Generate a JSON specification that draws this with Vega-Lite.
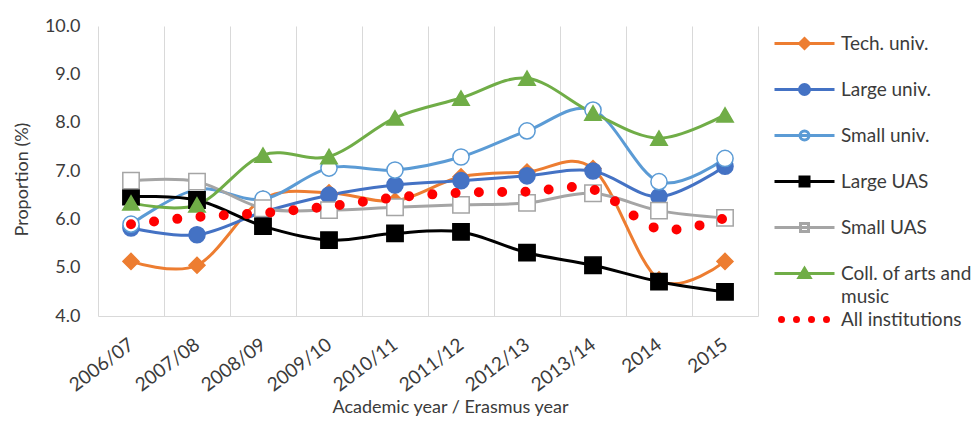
{
  "$schema": "https://vega.github.io/schema/vega-lite/v6.json",
  "width": 660,
  "height": 290,
  "autosize": {"type": "none"},
  "padding": {"left": 98, "top": 26, "right": 214, "bottom": 111},
  "background": "white",
  "config": {
    "view": {"stroke": null},
    "font": "Lato",
    "axis": {"labelColor": "#3b3b3b", "titleColor": "#3b3b3b", "labelFontSize": 18, "titleFontSize": 18, "titleFontWeight": "normal", "labelFont": "Lato", "titleFont": "Lato"}
  },
  "data": {
    "values": [
      {"series": "Tech. univ.", "year": "2006/07", "value": 5.13},
      {"series": "Tech. univ.", "year": "2007/08", "value": 5.05},
      {"series": "Tech. univ.", "year": "2008/09", "value": 6.42},
      {"series": "Tech. univ.", "year": "2009/10", "value": 6.55},
      {"series": "Tech. univ.", "year": "2010/11", "value": 6.38},
      {"series": "Tech. univ.", "year": "2011/12", "value": 6.88},
      {"series": "Tech. univ.", "year": "2012/13", "value": 6.98},
      {"series": "Tech. univ.", "year": "2013/14", "value": 7.05},
      {"series": "Tech. univ.", "year": "2014", "value": 4.75},
      {"series": "Tech. univ.", "year": "2015", "value": 5.13},
      {"series": "Large univ.", "year": "2006/07", "value": 5.82},
      {"series": "Large univ.", "year": "2007/08", "value": 5.68},
      {"series": "Large univ.", "year": "2008/09", "value": 6.15},
      {"series": "Large univ.", "year": "2009/10", "value": 6.5},
      {"series": "Large univ.", "year": "2010/11", "value": 6.71},
      {"series": "Large univ.", "year": "2011/12", "value": 6.8},
      {"series": "Large univ.", "year": "2012/13", "value": 6.9},
      {"series": "Large univ.", "year": "2013/14", "value": 7.0},
      {"series": "Large univ.", "year": "2014", "value": 6.47},
      {"series": "Large univ.", "year": "2015", "value": 7.1},
      {"series": "Small univ.", "year": "2006/07", "value": 5.9},
      {"series": "Small univ.", "year": "2007/08", "value": 6.62},
      {"series": "Small univ.", "year": "2008/09", "value": 6.42},
      {"series": "Small univ.", "year": "2009/10", "value": 7.06},
      {"series": "Small univ.", "year": "2010/11", "value": 7.02},
      {"series": "Small univ.", "year": "2011/12", "value": 7.29},
      {"series": "Small univ.", "year": "2012/13", "value": 7.83},
      {"series": "Small univ.", "year": "2013/14", "value": 8.26},
      {"series": "Small univ.", "year": "2014", "value": 6.78},
      {"series": "Small univ.", "year": "2015", "value": 7.26},
      {"series": "Large UAS", "year": "2006/07", "value": 6.47},
      {"series": "Large UAS", "year": "2007/08", "value": 6.4},
      {"series": "Large UAS", "year": "2008/09", "value": 5.86},
      {"series": "Large UAS", "year": "2009/10", "value": 5.57},
      {"series": "Large UAS", "year": "2010/11", "value": 5.71},
      {"series": "Large UAS", "year": "2011/12", "value": 5.74},
      {"series": "Large UAS", "year": "2012/13", "value": 5.31},
      {"series": "Large UAS", "year": "2013/14", "value": 5.05},
      {"series": "Large UAS", "year": "2014", "value": 4.71},
      {"series": "Large UAS", "year": "2015", "value": 4.5},
      {"series": "Small UAS", "year": "2006/07", "value": 6.8},
      {"series": "Small UAS", "year": "2007/08", "value": 6.78},
      {"series": "Small UAS", "year": "2008/09", "value": 6.23},
      {"series": "Small UAS", "year": "2009/10", "value": 6.19},
      {"series": "Small UAS", "year": "2010/11", "value": 6.25},
      {"series": "Small UAS", "year": "2011/12", "value": 6.3},
      {"series": "Small UAS", "year": "2012/13", "value": 6.34},
      {"series": "Small UAS", "year": "2013/14", "value": 6.54},
      {"series": "Small UAS", "year": "2014", "value": 6.18},
      {"series": "Small UAS", "year": "2015", "value": 6.03},
      {"series": "Coll. of arts and music", "year": "2006/07", "value": 6.34},
      {"series": "Coll. of arts and music", "year": "2007/08", "value": 6.3},
      {"series": "Coll. of arts and music", "year": "2008/09", "value": 7.33},
      {"series": "Coll. of arts and music", "year": "2009/10", "value": 7.3},
      {"series": "Coll. of arts and music", "year": "2010/11", "value": 8.1},
      {"series": "Coll. of arts and music", "year": "2011/12", "value": 8.51},
      {"series": "Coll. of arts and music", "year": "2012/13", "value": 8.92},
      {"series": "Coll. of arts and music", "year": "2013/14", "value": 8.2},
      {"series": "Coll. of arts and music", "year": "2014", "value": 7.68},
      {"series": "Coll. of arts and music", "year": "2015", "value": 8.16},
      {"series": "All institutions", "year": "2006/07", "value": 5.9},
      {"series": "All institutions", "year": "2007/08", "value": 6.05},
      {"series": "All institutions", "year": "2008/09", "value": 6.13},
      {"series": "All institutions", "year": "2009/10", "value": 6.27},
      {"series": "All institutions", "year": "2010/11", "value": 6.45},
      {"series": "All institutions", "year": "2011/12", "value": 6.55},
      {"series": "All institutions", "year": "2012/13", "value": 6.57},
      {"series": "All institutions", "year": "2013/14", "value": 6.62},
      {"series": "All institutions", "year": "2014", "value": 5.8},
      {"series": "All institutions", "year": "2015", "value": 6.03}
    ]
  },
  "encoding": {
    "x": {
      "field": "year", "type": "ordinal",
      "sort": ["2006/07", "2007/08", "2008/09", "2009/10", "2010/11", "2011/12", "2012/13", "2013/14", "2014", "2015"],
      "scale": {"paddingInner": 0, "paddingOuter": 0},
      "axis": {
        "title": "Academic year / Erasmus year",
        "tickBand": "extent", "grid": true, "gridColor": "#d9d9d9", "gridWidth": 1,
        "domain": true, "domainColor": "#d9d9d9", "domainWidth": 1,
        "ticks": false, "tickSize": 0,
        "labelFontSize": 19,
        "labelAngle": -37, "labelAlign": "right", "labelBaseline": "middle", "labelPadding": 26,
        "titleX": 352, "titleY": 91, "titleAlign": "center", "titleBaseline": "middle"
      }
    },
    "y": {
      "field": "value", "type": "quantitative",
      "scale": {"domain": [4, 10], "nice": false, "zero": false},
      "axis": {
        "title": "Proportion (%)", "values": [4, 5, 6, 7, 8, 9, 10], "format": ".1f",
        "grid": false, "domain": false, "ticks": false, "tickSize": 0,
        "labelPadding": 18,
        "titleX": -76, "titleY": 153, "titleAlign": "center", "titleBaseline": "middle"
      }
    }
  },
  "layer": [
    {
      "transform": [{"filter": "datum.series != 'All institutions'"}],
      "mark": {"type": "line", "interpolate": "cardinal", "strokeWidth": 3},
      "encoding": {
        "color": {
          "field": "series", "type": "nominal",
          "scale": {
            "domain": ["Tech. univ.", "Large univ.", "Small univ.", "Large UAS", "Small UAS", "Coll. of arts and music", "All institutions"],
            "range": ["#ED7D31", "#4472C4", "#5B9BD5", "#000000", "#A5A5A5", "#70AD47", "#FF0000"]
          },
          "legend": {
            "title": null, "orient": "none", "legendX": 695, "legendY": 6,
            "labelFontSize": 19, "labelColor": "#3b3b3b", "labelFont": "Lato",
            "gridAlign": "all",
            "rowPadding": 1, "symbolSize": 400, "labelOffset": 25, "labelLimit": 300,
            "labelExpr": "datum.label == 'Coll. of arts and music' ? ['Coll. of arts and', 'music'] : datum.label",
            "encode": {
              "symbols": {
                "update": {
                  "shape": {"signal": "['M-3,0H3M-0.5,0L0,-0.5L0.5,0L0,0.5Z', 'M-3,0H3M-0.5,0A0.5,0.5,0,1,0,0.5,0A0.5,0.5,0,1,0,-0.5,0Z', 'M-3,0H3M-0.45,0A0.45,0.45,0,1,0,0.45,0A0.45,0.45,0,1,0,-0.45,0Z', 'M-3,0H3M-0.45,-0.45H0.45V0.45H-0.45Z', 'M-3,0H3M-0.4,-0.4H0.4V0.4H-0.4Z', 'M-3,0H3M-0.55,0.4L0,-0.5L0.55,0.4Z', 'M-2.5,0A0.2,0.2,0,1,0,-2.1,0A0.2,0.2,0,1,0,-2.5,0ZM-1,0A0.2,0.2,0,1,0,-0.6,0A0.2,0.2,0,1,0,-1,0ZM0.5,0A0.2,0.2,0,1,0,0.9,0A0.2,0.2,0,1,0,0.5,0ZM2,0A0.2,0.2,0,1,0,2.4,0A0.2,0.2,0,1,0,2,0Z'][indexof(['Tech. univ.', 'Large univ.', 'Small univ.', 'Large UAS', 'Small UAS', 'Coll. of arts and music', 'All institutions'], datum.value)]"},
                  "fill": {"signal": "indexof(['Small univ.', 'Small UAS'], datum.value) >= 0 ? '#ffffff' : scale('color', datum.value)"},
                  "stroke": {"signal": "scale('color', datum.value)"},
                  "strokeWidth": {"value": 3},
                  "strokeDash": {"value": []},
                  "size": {"value": 400},
                  "opacity": {"value": 1}
                }
              },
              "labels": {
                "update": {
                  "lineHeight": {"value": 23}
                }
              }
            }
          }
        }
      }
    },
    {
      "transform": [{"filter": "datum.series != 'All institutions'"}],
      "mark": {"type": "point", "strokeWidth": 1.5, "opacity": 1},
      "encoding": {
        "shape": {
          "field": "series", "type": "nominal", "legend": null,
          "scale": {
            "domain": ["Tech. univ.", "Large univ.", "Small univ.", "Large UAS", "Small UAS", "Coll. of arts and music"],
            "range": ["diamond", "circle", "circle", "square", "square", "triangle-up"]
          }
        },
        "stroke": {
          "field": "series", "type": "nominal", "legend": null,
          "scale": {
            "domain": ["Tech. univ.", "Large univ.", "Small univ.", "Large UAS", "Small UAS", "Coll. of arts and music"],
            "range": ["#ED7D31", "#4472C4", "#5B9BD5", "#000000", "#A5A5A5", "#70AD47"]
          }
        },
        "fill": {
          "field": "series", "type": "nominal", "legend": null,
          "scale": {
            "domain": ["Tech. univ.", "Large univ.", "Small univ.", "Large UAS", "Small UAS", "Coll. of arts and music"],
            "range": ["#ED7D31", "#4472C4", "#ffffff", "#000000", "#ffffff", "#70AD47"]
          }
        },
        "size": {
          "field": "series", "type": "nominal", "legend": null,
          "scale": {
            "domain": ["Tech. univ.", "Large univ.", "Small univ.", "Large UAS", "Small UAS", "Coll. of arts and music"],
            "range": [256, 272, 306, 306, 210, 289]
          }
        }
      }
    },
    {
      "transform": [{"filter": "datum.series == 'All institutions'"}],
      "mark": {"type": "line", "interpolate": "cardinal", "strokeWidth": 10, "strokeDash": [0, 23.3], "strokeCap": "round"},
      "encoding": {
        "color": {"field": "series", "type": "nominal"}
      }
    }
  ]
}
